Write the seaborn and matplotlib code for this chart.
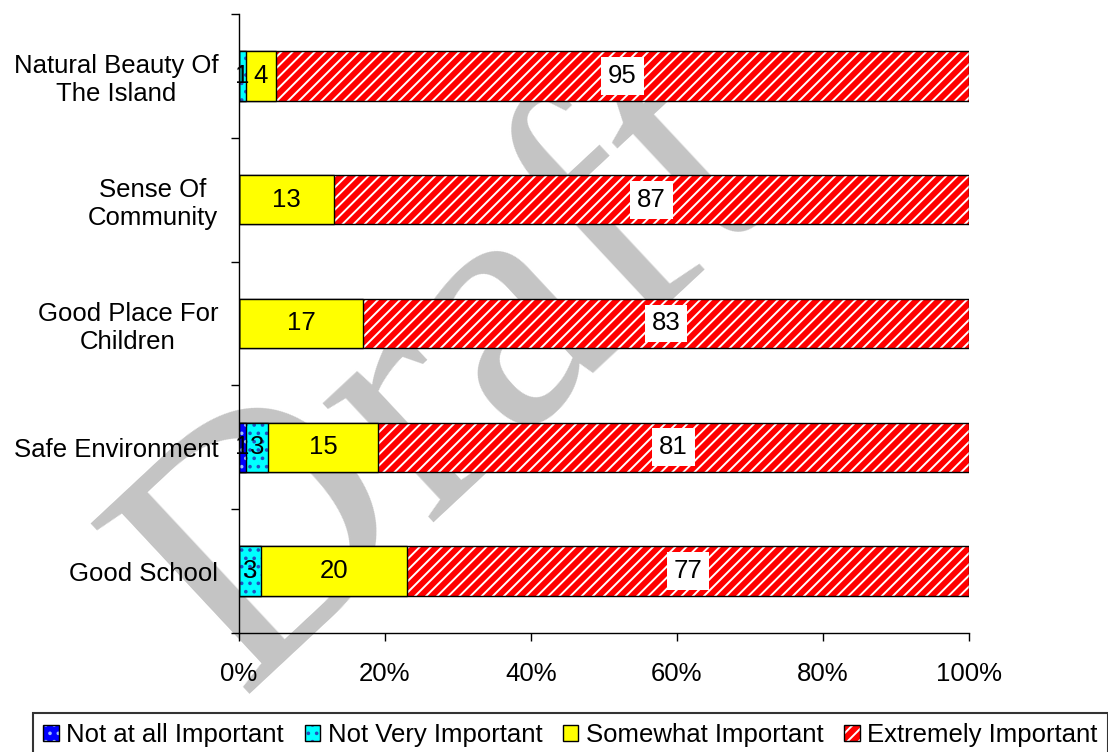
import numpy as np
import matplotlib
matplotlib.use("Agg")
import matplotlib.pyplot as plt
import matplotlib.colors as mcolors
from matplotlib.patches import Patch
import seaborn as sns

categories = ["Natural Beauty Of\nThe Island", "Sense Of\nCommunity", "Good Place For\nChildren",
              "Safe Environment", "Good School"]
series_names = ["Not at all Important", "Not Very Important", "Somewhat Important", "Extremely Important"]
not_at_all = [0, 0, 0, 1, 0]
not_very = [1, 0, 0, 3, 3]
somewhat = [4, 13, 17, 15, 20]
extremely = [95, 87, 83, 81, 77]
xticks = [0, 20, 40, 60, 80, 100]

sns.set_style("white")
plt.rcParams['font.family'] = ['Liberation Sans', 'DejaVu Sans']
plt.rcParams['text.color'] = 'black'
plt.rcParams['xtick.labelcolor'] = 'black'
plt.rcParams['ytick.labelcolor'] = 'black'
plt.rcParams['hatch.linewidth'] = 1.4
FS = 18.5

fills = ["#0000ff", "#00ffff", "#ffff00", "#ff0000"]
hatches = ["..", "..", None, "///"]
hatch_cols = ["#a0c0ff", "#2050c0", None, "#ffffff"]

fig = plt.figure(figsize=(11.08, 7.52), dpi=100)
fig.text(0.41, 0.5, "Draft", rotation=43, ha="center", va="center", fontsize=255,
         family="Liberation Serif", color="#c4c4c4", zorder=-1)
ax = fig.add_axes([239 / 1108, 1 - 633 / 752, 730 / 1108, 619 / 752])
ax.set_facecolor("none")

series = [not_at_all, not_very, somewhat, extremely]
cum = np.cumsum(np.array(series, dtype=float), axis=0)

# draw cumulative bars from the longest to the shortest so they stack
for k in range(3, -1, -1):
    n0 = len(ax.patches)
    sns.barplot(x=cum[k], y=categories, orient="h", color=fills[k], saturation=1,
                width=0.4, edgecolor="black", linewidth=1.0, hatch=hatches[k], ax=ax)
    if hatches[k]:
        for p in ax.patches[n0:]:
            p._hatch_color = mcolors.to_rgba(hatch_cols[k])

# value labels
for k in range(4):
    for i, v in enumerate(series[k]):
        if v == 0:
            continue
        left = cum[k][i] - v
        kw = {}
        if k == 3:
            kw["bbox"] = dict(facecolor="white", edgecolor="none", pad=5)
        ax.text(left + v / 2, i, str(v), ha="center", va="center", fontsize=FS, color="black", **kw)

ax.set_xlim(0, 100)
ax.set_ylim(4.5, -0.5)
ax.set_xticks(xticks)
ax.set_xticklabels([f"{t}%" for t in xticks], fontsize=FS)
ax.set_yticks(range(len(categories)))
ax.set_yticklabels(categories, fontsize=FS, multialignment="center")
ax.set_yticks(np.arange(-0.5, len(categories), 1.0), minor=True)
ax.tick_params(axis="y", which="major", length=0, pad=15)
ax.tick_params(axis="y", which="minor", length=6, width=1, direction="out", color="black", left=True)
ax.tick_params(axis="x", which="major", length=6, width=1, direction="out", color="black", bottom=True, pad=15)
ax.set_xlabel("")
ax.set_ylabel("")
for s in ["top", "right"]:
    ax.spines[s].set_visible(False)
for s in ["left", "bottom"]:
    ax.spines[s].set_color("black")
    ax.spines[s].set_linewidth(1.0)

handles = []
for k in range(4):
    h = Patch(facecolor=fills[k], edgecolor="black", hatch=hatches[k], linewidth=1)
    handles.append(h)
leg = fig.legend(handles, series_names, loc="upper left", bbox_to_anchor=(33 / 1108, 1 - 713 / 752),
                 ncol=4, fontsize=FS, frameon=True, fancybox=False, edgecolor="#333333",
                 framealpha=1, borderaxespad=0, handlelength=0.6, handleheight=0.6,
                 handletextpad=0.3, columnspacing=0.8, borderpad=0.4)
leg.get_frame().set_linewidth(1.5)
for h, k in zip(leg.legend_handles, range(4)):
    if hatches[k]:
        h._hatch_color = mcolors.to_rgba(hatch_cols[k])

fig.savefig("out.png", dpi=100)
